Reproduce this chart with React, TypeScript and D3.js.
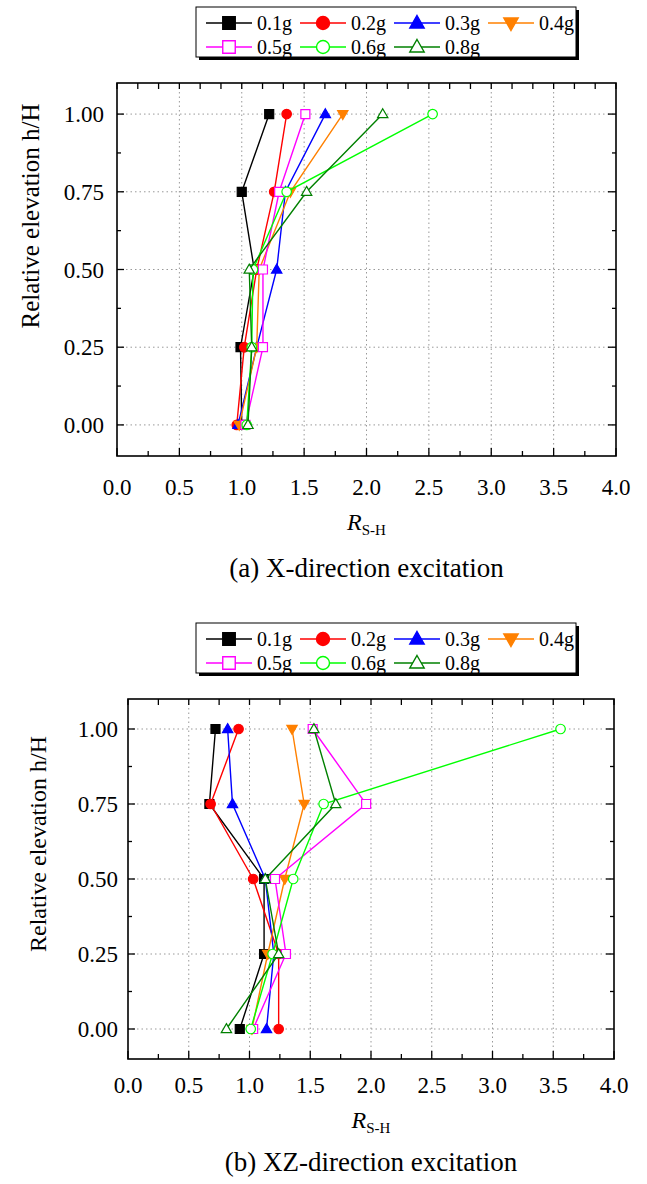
import React from "react";
import * as d3 from "d3";

const levels = [0, 0.25, 0.5, 0.75, 1.0];
const seriesNames = ["0.1g", "0.2g", "0.3g", "0.4g", "0.5g", "0.6g", "0.8g"];
const seriesColors = ["#000000", "#ff0000", "#0000ff", "#ff8000", "#ff00ff", "#00ff00", "#008000"];
const seriesShapes = ["square", "circle", "triUp", "triDown", "square", "circle", "triUp"];
const seriesFilled = [true, true, true, true, false, false, false];

// X-direction excitation: values at levels 0, 0.25, 0.5, 0.75, 1.0
const xDir01 = [1.0, 0.99, 1.1, 1.0, 1.22];
const xDir02 = [0.96, 1.02, 1.12, 1.26, 1.36];
const xDir03 = [0.97, 1.12, 1.28, 1.35, 1.67];
const xDir04 = [0.98, 1.12, 1.14, 1.39, 1.81];
const xDir05 = [1.03, 1.17, 1.17, 1.3, 1.51];
const xDir06 = [1.04, 1.08, 1.09, 1.36, 2.53];
const xDir08 = [1.05, 1.08, 1.06, 1.52, 2.13];

// XZ-direction excitation
const xzDir01 = [0.92, 1.12, 1.12, 0.67, 0.72];
const xzDir02 = [1.24, 1.24, 1.03, 0.68, 0.91];
const xzDir03 = [1.14, 1.2, 1.13, 0.86, 0.82];
const xzDir04 = [1.02, 1.15, 1.29, 1.45, 1.35];
const xzDir05 = [1.03, 1.3, 1.21, 1.96, 1.52];
const xzDir06 = [1.01, 1.19, 1.36, 1.61, 3.56];
const xzDir08 = [0.81, 1.24, 1.13, 1.71, 1.53];

const xTicks = [0, 0.5, 1.0, 1.5, 2.0, 2.5, 3.0, 3.5, 4.0];
const yTicks = [0, 0.25, 0.5, 0.75, 1.0];

const yLabel = "Relative elevation h/H";

function markerPath(shape: string, s: number): string {
  if (shape === "square") {
    return `M${-s / 2},${-s / 2}H${s / 2}V${s / 2}H${-s / 2}Z`;
  }
  if (shape === "circle") {
    const r = s / 2;
    return `M${r},0A${r},${r} 0 1,1 ${-r},0A${r},${r} 0 1,1 ${r},0Z`;
  }
  const w = s * 1.15;
  const h = s;
  if (shape === "triUp") {
    return `M0,${-h * 0.6}L${w / 2},${h * 0.4}L${-w / 2},${h * 0.4}Z`;
  }
  return `M0,${h * 0.6}L${w / 2},${-h * 0.4}L${-w / 2},${-h * 0.4}Z`;
}

type PanelProps = {
  series: number[][];
  left: number;
  right: number;
  top: number;
  bottom: number;
  legendY: number;
  caption: string;
  topTickStep: number;
  yLabelGap: number;
  yLabelX: number;
  yLabelCenter: number;
  yLabelSize: number;
  xLabelDy: number;
  rDy: number;
  capDy: number;
};

function Panel(p: PanelProps) {
  const x = d3.scaleLinear().domain([0, 4]).range([p.left, p.right]);
  const y = d3.scaleLinear().domain([-0.1, 1.1]).range([p.bottom, p.top]);
  const line = d3
    .line<[number, number]>()
    .x((d) => x(d[0]))
    .y((d) => y(d[1]));
  const serif = "Liberation Serif, Times New Roman, serif";
  const minorX = d3.range(0, 4.0001, 0.25);
  const topX = d3.range(0, 4.0001, p.topTickStep);
  const minorY = [-0.125, 0.125, 0.375, 0.625, 0.875, 1.125].filter((v) => v > -0.1 && v < 1.1);
  const cx = (p.left + p.right) / 2;
  const legX = 196;
  const legW = 380;
  const legH = 50;
  return (
    <g>
      {/* grid */}
      {xTicks
        .filter((t) => t > 0 && t < 4)
        .map((t) => (
          <line key={"gx" + t} x1={x(t)} x2={x(t)} y1={p.top} y2={p.bottom} stroke="#999" strokeWidth={1} strokeDasharray="1.5,3" />
        ))}
      {yTicks.map((t) => (
        <line key={"gy" + t} x1={p.left} x2={p.right} y1={y(t)} y2={y(t)} stroke="#999" strokeWidth={1} strokeDasharray="1.5,3" />
      ))}
      {/* ticks */}
      {minorX.map((t, i) => {
        const major = i % 2 === 0;
        return <line key={"bx" + t} x1={x(t)} x2={x(t)} y1={p.bottom} y2={p.bottom - (major ? 8 : 5)} stroke="#000" strokeWidth={1.3} />;
      })}
      {topX.map((t) => (
        <line key={"tx" + t} x1={x(t)} x2={x(t)} y1={p.top} y2={p.top + 6} stroke="#000" strokeWidth={1.3} />
      ))}
      {yTicks.map((t) => (
        <g key={"ty" + t}>
          <line x1={p.left} x2={p.left + 7} y1={y(t)} y2={y(t)} stroke="#000" strokeWidth={1.3} />
          <line x1={p.right} x2={p.right - 8} y1={y(t)} y2={y(t)} stroke="#000" strokeWidth={1.3} />
        </g>
      ))}
      {minorY.map((t) => (
        <g key={"my" + t}>
          <line x1={p.left} x2={p.left + 4} y1={y(t)} y2={y(t)} stroke="#000" strokeWidth={1.3} />
          <line x1={p.right} x2={p.right - 4} y1={y(t)} y2={y(t)} stroke="#000" strokeWidth={1.3} />
        </g>
      ))}
      <rect x={p.left} y={p.top} width={p.right - p.left} height={p.bottom - p.top} fill="none" stroke="#000" strokeWidth={1.6} />
      {/* tick labels */}
      {xTicks.map((t) => (
        <text key={"lx" + t} x={x(t)} y={p.bottom + p.xLabelDy} textAnchor="middle" fontFamily={serif} fontSize={23}>
          {d3.format(".1f")(t)}
        </text>
      ))}
      {yTicks.map((t) => (
        <text key={"ly" + t} x={p.left - p.yLabelGap} y={y(t) + 8} textAnchor="end" fontFamily={serif} fontSize={23}>
          {d3.format(".2f")(t)}
        </text>
      ))}
      <text transform={`translate(${p.yLabelX},${p.yLabelCenter}) rotate(-90)`} textAnchor="middle" fontFamily={serif} fontSize={p.yLabelSize}>
        {yLabel}
      </text>
      <text x={cx} y={p.bottom + p.rDy} textAnchor="middle" fontFamily={serif}>
        <tspan fontStyle="italic" fontSize={24}>R</tspan>
        <tspan fontSize={15} dy={5}>S-H</tspan>
      </text>
      <text x={cx} y={p.bottom + p.capDy} textAnchor="middle" fontFamily={serif} fontSize={27}>
        {p.caption}
      </text>
      {/* series */}
      {p.series.map((vals, si) => {
        const pts: [number, number][] = vals.map((v, i) => [v, levels[i]]);
        return (
          <g key={"s" + si}>
            <path d={line(pts) || ""} fill="none" stroke={seriesColors[si]} strokeWidth={1.4} />
            {pts.map((pt, i) => (
              <path
                key={i}
                d={markerPath(seriesShapes[si], seriesShapes[si] === "circle" ? 9.5 : 9)}
                transform={`translate(${x(pt[0])},${y(pt[1])})`}
                fill={seriesFilled[si] ? seriesColors[si] : "#fff"}
                stroke={seriesColors[si]}
                strokeWidth={1.2}
              />
            ))}
          </g>
        );
      })}
      {/* legend */}
      <rect x={legX + 3} y={p.legendY + 3} width={legW} height={legH} fill="#000" />
      <rect x={legX} y={p.legendY} width={legW} height={legH} fill="#fff" stroke="#000" strokeWidth={1} />
      {seriesNames.map((name, i) => {
        const col = i % 4;
        const row = Math.floor(i / 4);
        const lx = legX + 10 + col * 94;
        const ly = p.legendY + 16 + row * 24;
        const s = seriesShapes[i] === "circle" ? 13 : 12.5;
        return (
          <g key={"lg" + i}>
            <line x1={lx} x2={lx + 46} y1={ly} y2={ly} stroke={seriesColors[i]} strokeWidth={1.4} />
            <path
              d={markerPath(seriesShapes[i], s)}
              transform={`translate(${lx + 23},${ly})`}
              fill={seriesFilled[i] ? seriesColors[i] : "#fff"}
              stroke={seriesColors[i]}
              strokeWidth={1.4}
            />
            <text x={lx + 51} y={ly + 7} fontFamily={serif} fontSize={20}>
              {name}
            </text>
          </g>
        );
      })}
    </g>
  );
}

export default function App() {
  return (
    <svg width={647} height={1184} style={{ position: "absolute", left: 0, top: 0 }}>
      <rect width={647} height={1184} fill="#fff" />
      <Panel
        series={[xDir01, xDir02, xDir03, xDir04, xDir05, xDir06, xDir08]}
        left={117}
        right={616}
        top={83}
        bottom={456}
        legendY={7}
        caption="(a) X-direction excitation"
        topTickStep={0.5 / 3}
        yLabelGap={13}
        yLabelX={39}
        yLabelCenter={216}
        yLabelSize={25}
        xLabelDy={39}
        rDy={74}
        capDy={121}
      />
      <Panel
        series={[xzDir01, xzDir02, xzDir03, xzDir04, xzDir05, xzDir06, xzDir08]}
        left={128}
        right={614}
        top={699}
        bottom={1059}
        legendY={623}
        caption="(b) XZ-direction excitation"
        topTickStep={0.25}
        yLabelGap={10}
        yLabelX={46}
        yLabelCenter={844}
        yLabelSize={24}
        xLabelDy={34}
        rDy={69}
        capDy={112}
      />
    </svg>
  );
}
